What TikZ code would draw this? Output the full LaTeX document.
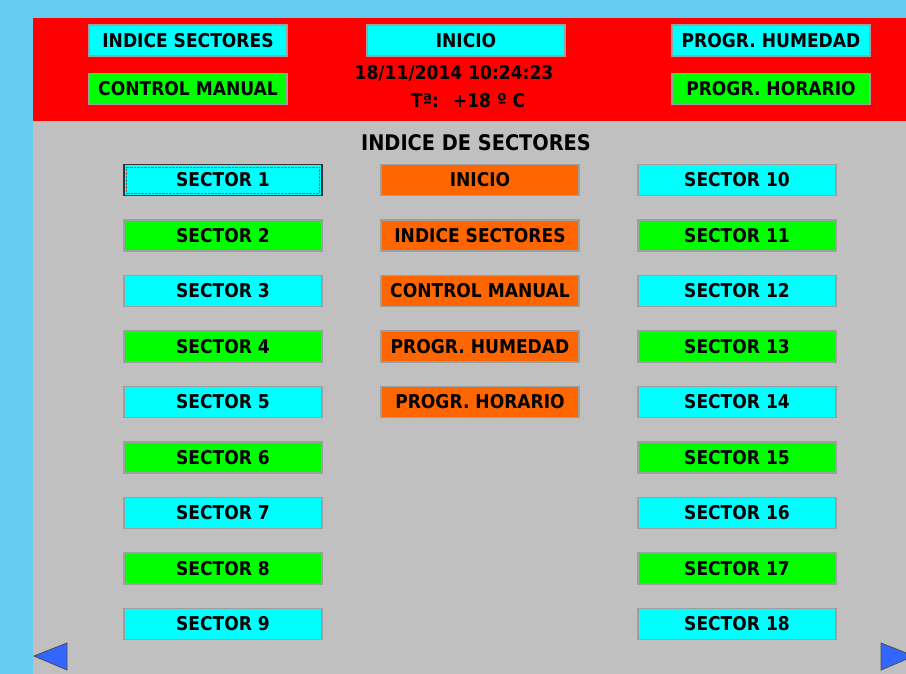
\documentclass[tikz,border=0pt]{standalone}
\usepackage{fontspec}
\setmainfont{DejaVu Sans Condensed}[BoldFont={DejaVu Sans Condensed Bold}]
\usetikzlibrary{positioning,calc}
\definecolor{skyback}{HTML}{66CCF0}
\definecolor{panelgray}{HTML}{C0C0C0}
\definecolor{barred}{HTML}{FF0000}
\definecolor{btncyan}{HTML}{00FFFF}
\definecolor{btngreen}{HTML}{00FF00}
\definecolor{btnorange}{HTML}{FF6600}
\definecolor{arrowblue}{HTML}{3366FF}

\begin{document}
\begin{tikzpicture}[x=1pt,y=-1pt,
         button/.style = {draw=gray!75,line width=1.2pt,minimum width=198pt,
            minimum height=31pt,inner sep=0pt,font=\bfseries\fontsize{19}{21}\selectfont},
         cyanbtn/.style = {button,fill=btncyan},
         greenbtn/.style = {button,fill=btngreen},
         orangebtn/.style = {button,fill=btnorange},
         navarrow/.style = {fill=arrowblue,draw=black!70,line width=0.8pt}
]
      \useasboundingbox (0,0) rectangle (906,674);
      \clip (0,0) rectangle (906,674);
      % background and header bar
      \fill[skyback] (0,0) rectangle (906,674);
      \fill[panelgray] (33,121) rectangle (906,674);
      \fill[barred] (33,18) rectangle (906,121);

      % header buttons
      \node[cyanbtn]  (hdrindice)  at (188,40.5) {INDICE SECTORES};
      \node[greenbtn] (hdrmanual)  at (188,89)   {CONTROL MANUAL};
      \node[cyanbtn]  (hdrinicio)  at (466,40.5) {INICIO};
      \node[cyanbtn]  (hdrhumedad) at (771,40.5) {PROGR. HUMEDAD};
      \node[greenbtn] (hdrhorario) at (771,89)   {PROGR. HORARIO};
      \node[font=\bfseries\fontsize{19}{21}\selectfont] (fecha) at (454,73) {18/11/2014 10:24:23};
      \node[font=\bfseries\fontsize{19}{21}\selectfont] (temp) at (468,101) {Tª:\hspace{14pt}+18 º C};

      \node[font=\bfseries\fontsize{21.5}{24}\selectfont] (titulo) at (476,143) {INDICE DE SECTORES};

      % left column
      \node[cyanbtn,draw=black!80]  (s1) at (223,180) {SECTOR 1};
      \node[greenbtn] (s2) at (223,235.5) {SECTOR 2};
      \node[cyanbtn]  (s3) at (223,291)   {SECTOR 3};
      \node[greenbtn] (s4) at (223,346.5) {SECTOR 4};
      \node[cyanbtn]  (s5) at (223,402)   {SECTOR 5};
      \node[greenbtn] (s6) at (223,457.5) {SECTOR 6};
      \node[cyanbtn]  (s7) at (223,513)   {SECTOR 7};
      \node[greenbtn] (s8) at (223,568.5) {SECTOR 8};
      \node[cyanbtn]  (s9) at (223,624)   {SECTOR 9};
      \draw[black!60,densely dotted] ($(s1.south west)+(3,-3)$) rectangle ($(s1.north east)+(-3,3)$);

      % middle column
      \node[orangebtn] (minicio)  at (480,180)   {INICIO};
      \node[orangebtn] (mindice)  at (480,235.5) {INDICE SECTORES};
      \node[orangebtn] (mmanual)  at (480,291)   {CONTROL MANUAL};
      \node[orangebtn] (mhumedad) at (480,346.5) {PROGR. HUMEDAD};
      \node[orangebtn] (mhorario) at (480,402)   {PROGR. HORARIO};

      % right column
      \node[cyanbtn]  (s10) at (737,180)   {SECTOR 10};
      \node[greenbtn] (s11) at (737,235.5) {SECTOR 11};
      \node[cyanbtn]  (s12) at (737,291)   {SECTOR 12};
      \node[greenbtn] (s13) at (737,346.5) {SECTOR 13};
      \node[cyanbtn]  (s14) at (737,402)   {SECTOR 14};
      \node[greenbtn] (s15) at (737,457.5) {SECTOR 15};
      \node[cyanbtn]  (s16) at (737,513)   {SECTOR 16};
      \node[greenbtn] (s17) at (737,568.5) {SECTOR 17};
      \node[cyanbtn]  (s18) at (737,624)   {SECTOR 18};

      % page arrows
      \draw[navarrow] (34,656) -- (67,643) -- (67,670) -- cycle;
      \draw[navarrow] (881,643) -- (914,656) -- (881,670) -- cycle;
\end{tikzpicture}
\end{document}
